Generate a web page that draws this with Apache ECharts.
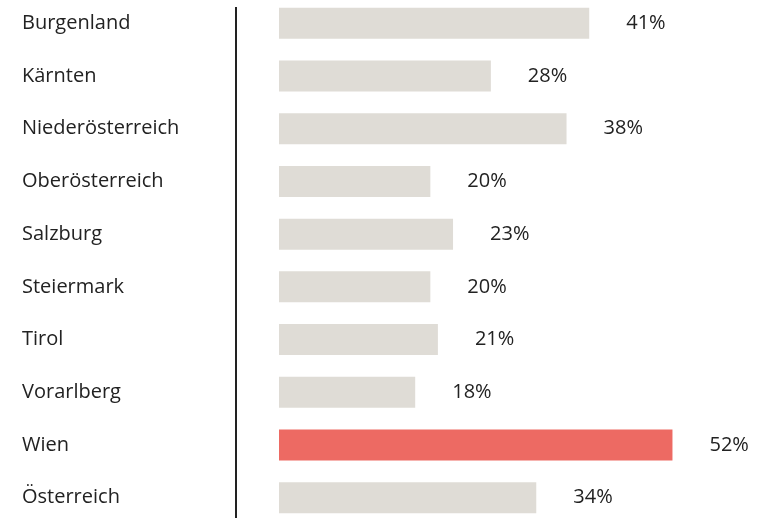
<!DOCTYPE html>
<html>
<head>
<meta charset="utf-8">
<script src="https://cdn.jsdelivr.net/npm/echarts@6/dist/echarts.min.js"></script>
<style>
  html, body { margin: 0; padding: 0; background: #fff; overflow: hidden; }
  #chart { width: 757px; height: 532px; position: absolute; left: 0; top: -3px; }
</style>
</head>
<body>
<div id="chart"></div>
<script>
const regions = ['Burgenland', 'Kärnten', 'Niederösterreich', 'Oberösterreich', 'Salzburg',
  'Steiermark', 'Tirol', 'Vorarlberg', 'Wien', 'Österreich'];
const shares = [41, 28, 38, 20, 23, 20, 21, 18, 52, 34];
const highlight = 'Wien';

const chart = echarts.init(document.getElementById('chart'));

const option = {
  animation: false,
  grid: { left: 279, right: 24, top: 0, height: 527 },
  xAxis: {
    type: 'value',
    min: 0,
    max: 60,
    show: false
  },
  yAxis: {
    type: 'category',
    inverse: true,
    data: regions,
    axisLine: { show: false },
    axisTick: { show: false },
    axisLabel: {
      align: 'left',
      margin: 257,
      fontFamily: 'Open Sans',
      fontSize: 20,
      color: '#222'
    }
  },
  // divider between names and bars
  graphic: [{
    type: 'line',
    shape: { x1: 236, y1: 10, x2: 236, y2: 532 },
    style: { stroke: '#222', lineWidth: 2 }
  }],
  series: [{
    type: 'bar',
    barWidth: 31,
    data: shares.map((v, i) => ({
      value: v,
      itemStyle: { color: regions[i] === highlight ? '#ed6a63' : '#dfdcd6' }
    })),
    label: {
      show: true,
      position: 'right',
      distance: 37,
      formatter: '{c}%',
      fontFamily: 'Open Sans',
      fontSize: 20,
      color: '#222'
    }
  }]
};

chart.setOption(option);
</script>
</body>
</html>
